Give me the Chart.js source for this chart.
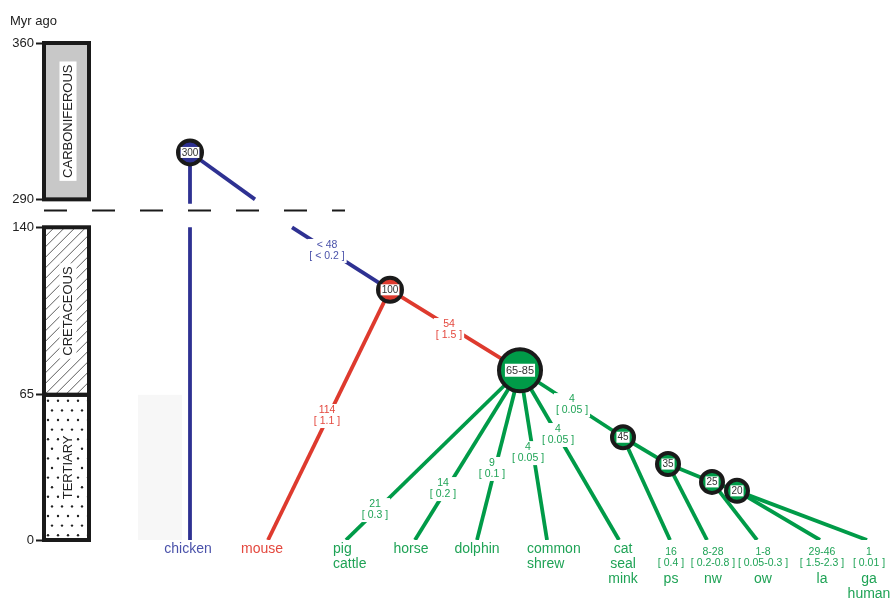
<!DOCTYPE html>
<html lang="en">
<head>
<meta charset="UTF-8" />
<title>Myr ago</title>
<script src="https://cdn.jsdelivr.net/npm/chart.js"></script>
<style>
  html, body { margin: 0; background: #fff; overflow: hidden; }
  #wrap { position: relative; width: 895px; height: 599px; }
</style>
</head>
<body>
<div id="wrap"><canvas id="tree" width="895" height="599"></canvas></div>
<script>
// time axis, Myr ago (broken between 140 and 290)
const tickMyr = [0, 65, 140, 290, 360];
const breakLow = 140, breakHigh = 290, breakGap = 12.5;

const periodNames = ['TERTIARY', 'CRETACEOUS', 'CARBONIFEROUS'];
const periodFrom = [0, 65, 290];
const periodTo = [65, 140, 360];

// internal nodes (age label, column, drawn height in Myr)
const nodeLabels = ['300', '100', '65-85', '45', '35', '25', '20'];
const nodeX = [190, 390, 520, 623, 668, 712, 737];
const nodeMyr = [311, 112, 76, 46, 34, 26, 22];
const nodeParent = [null, 0, 1, 2, 3, 4, 5];
const nodeClade = ['bird', 'rodent', 'mammal', 'mammal', 'mammal', 'mammal', 'mammal'];

// tips
const tipNames = [['chicken'], ['mouse'], ['pig', 'cattle'], ['horse'], ['dolphin'], ['common', 'shrew'],
  ['cat', 'seal', 'mink'], ['ps'], ['nw'], ['ow'], ['la'], ['ga', 'human']];
const tipX = [190, 268, 346, 415, 477, 547, 619, 670, 707, 757, 820, 867];
const tipParent = [0, 1, 2, 2, 2, 2, 2, 3, 4, 5, 6, 6];
const tipClade = ['bird', 'rodent', 'mammal', 'mammal', 'mammal', 'mammal', 'mammal', 'mammal', 'mammal', 'mammal', 'mammal', 'mammal'];
const tipLabelX = [188, 262, 333, 411, 477, 527, 623, 671, 713, 763, 822, 869];
const tipAlign = ['center', 'center', 'left', 'center', 'center', 'left', 'center', 'center', 'center', 'center', 'center', 'center'];
const tipDiv = ['', '', '', '', '', '', '', '16', '8-28', '1-8', '29-46', '1'];
const tipRange = ['', '', '', '', '', '', '', '[ 0.4 ]', '[ 0.2-0.8 ]', '[ 0.05-0.3 ]', '[ 1.5-2.3 ]', '[ 0.01 ]'];

// branch labels
const divText = ['< 48', '54', '114', '21', '14', '9', '4', '4', '4'];
const divRange = ['[ < 0.2 ]', '[ 1.5 ]', '[ 1.1 ]', '[ 0.3 ]', '[ 0.2 ]', '[ 0.1 ]', '[ 0.05 ]', '[ 0.05 ]', '[ 0.05 ]'];
const divX = [327, 449, 327, 375, 443, 492, 528, 558, 572];
const divMyr = [129.4, 94, 55.5, 13.4, 22.8, 31.8, 38.9, 47, 60.4];
const divClade = ['bird', 'rodent', 'rodent', 'mammal', 'mammal', 'mammal', 'mammal', 'mammal', 'mammal'];

// branches that cross the axis break: x where they leave / re-enter
const cutTip = { 0: [190, 190] };
const cutNode = { 1: [255, 292] };

const lineCol = { bird: '#2e3192', rodent: '#de3a2e', mammal: '#009b48' };
const textCol = { bird: '#4a52aa', rodent: '#e4483e', mammal: '#1fa356' };
const FONT = "'Liberation Sans', Arial, sans-serif";

function toAxis(myr) {
  if (myr <= breakLow) return myr;
  return myr - breakHigh + breakLow + breakGap;
}

const datasets = [];
datasets.push({
  data: nodeX.map((x, i) => ({ x: x, y: toAxis(nodeMyr[i]) })),
  showLine: false,
  pointRadius: nodeLabels.map(l => l === '65-85' ? 21 : (l === '300' || l === '100' ? 12 : 11)),
  pointBackgroundColor: nodeClade.map(c => lineCol[c]),
  pointBorderColor: '#1a1a1a',
  pointBorderWidth: 4,
  order: 0
});

function branch(x1, m1, x2, m2, clade) {
  datasets.push({
    data: [{ x: x1, y: toAxis(m1) }, { x: x2, y: toAxis(m2) }],
    showLine: true, borderColor: lineCol[clade], borderWidth: 3.8,
    pointRadius: 0, order: 2
  });
}

nodeParent.forEach((p, i) => {
  if (p === null) return;
  if (cutNode[i]) {
    branch(nodeX[p], nodeMyr[p], cutNode[i][0], breakHigh, nodeClade[p]);
    branch(cutNode[i][1], breakLow, nodeX[i], nodeMyr[i], nodeClade[p]);
  } else {
    branch(nodeX[p], nodeMyr[p], nodeX[i], nodeMyr[i], nodeClade[p]);
  }
});
tipParent.forEach((p, i) => {
  if (cutTip[i]) {
    branch(nodeX[p], nodeMyr[p], cutTip[i][0], breakHigh - 2, tipClade[i]);
    branch(cutTip[i][1], breakLow, tipX[i], 0, tipClade[i]);
  } else {
    branch(nodeX[p], nodeMyr[p], tipX[i], 0, tipClade[i]);
  }
});

// dashed line marking the break
datasets.push({
  data: [{ x: 44, y: breakLow + breakGap * 0.6 }, { x: 345, y: breakLow + breakGap * 0.6 }],
  showLine: true, borderColor: '#1a1a1a', borderWidth: 2, borderDash: [23, 25],
  pointRadius: 0, order: 3
});

const treeDecor = {
  id: 'treeDecor',
  beforeDatasetsDraw(chart) {
    const ctx = chart.ctx, ys = chart.scales.y, xs = chart.scales.x;
    const left = chart.chartArea.left + 2, right = left + 45;
    ctx.save();
    // faint panel
    ctx.fillStyle = '#f7f7f7';
    ctx.fillRect(xs.getPixelForValue(138), ys.getPixelForValue(65), 44, ys.getPixelForValue(0) - ys.getPixelForValue(65));

    periodNames.forEach((name, i) => {
      const top = ys.getPixelForValue(toAxis(periodTo[i]));
      const bot = ys.getPixelForValue(toAxis(periodFrom[i]));
      ctx.save();
      ctx.beginPath();
      ctx.rect(left, top, right - left, bot - top);
      ctx.clip();
      if (name === 'CARBONIFEROUS') {
        ctx.fillStyle = '#c8c8c8';
        ctx.fillRect(left, top, right - left, bot - top);
      } else if (name === 'CRETACEOUS') {
        ctx.strokeStyle = '#333';
        ctx.lineWidth = 0.8;
        const h = bot - top;
        for (let k = -h; k < right - left + h; k += 10.5) {
          ctx.beginPath();
          ctx.moveTo(left + k, bot);
          ctx.lineTo(left + k + h, top);
          ctx.stroke();
        }
      } else {
        ctx.fillStyle = '#222';
        let row = 0;
        for (let y = top + 6; y < bot; y += 9.6, row++) {
          for (let x = left + 4 + (row % 2) * 4; x < right; x += 10) {
            ctx.beginPath();
            ctx.arc(x, y, 1.2, 0, Math.PI * 2);
            ctx.fill();
          }
        }
      }
      ctx.restore();
      ctx.strokeStyle = '#1a1a1a';
      ctx.lineWidth = 4;
      ctx.strokeRect(left, top, right - left, bot - top);

      // rotated label
      ctx.save();
      ctx.translate((left + right) / 2 + 1, (top + bot) / 2);
      ctx.rotate(-Math.PI / 2);
      ctx.font = '13px ' + FONT;
      const w = ctx.measureText(name).width;
      ctx.fillStyle = '#fff';
      ctx.fillRect(-w / 2 - 3, -8, w + 6, 17);
      ctx.fillStyle = '#222';
      ctx.textAlign = 'center';
      ctx.textBaseline = 'middle';
      ctx.fillText(name, 0, 1);
      ctx.restore();
    });
    ctx.restore();
  },
  afterDatasetsDraw(chart) {
    const ctx = chart.ctx, ys = chart.scales.y, xs = chart.scales.x;
    ctx.save();
    ctx.textAlign = 'center';
    ctx.textBaseline = 'middle';

    // node labels
    nodeLabels.forEach((l, i) => {
      const x = xs.getPixelForValue(nodeX[i]), y = ys.getPixelForValue(toAxis(nodeMyr[i]));
      ctx.font = (l === '65-85' ? '11px ' : '10px ') + FONT;
      const w = ctx.measureText(l).width;
      const h = l === '65-85' ? 13 : 11;
      ctx.fillStyle = '#fff';
      ctx.fillRect(x - w / 2 - 1, y - h / 2, w + 2, h);
      ctx.fillStyle = '#333';
      ctx.fillText(l, x, y + 0.5);
    });

    // branch labels
    ctx.font = '10.5px ' + FONT;
    divText.forEach((t, i) => {
      const x = xs.getPixelForValue(divX[i]), y = ys.getPixelForValue(divMyr[i]);
      const w = Math.max(ctx.measureText(t).width, ctx.measureText(divRange[i]).width);
      ctx.fillStyle = '#fff';
      ctx.fillRect(x - w / 2 - 2, y - 12, w + 4, 24);
      ctx.fillStyle = textCol[divClade[i]];
      ctx.fillText(t, x, y - 5.5);
      ctx.fillText(divRange[i], x, y + 5.5);
    });

    // tip labels
    const y0 = ys.getPixelForValue(0);
    tipNames.forEach((lines, i) => {
      const x = xs.getPixelForValue(tipLabelX[i]);
      ctx.fillStyle = textCol[tipClade[i]];
      ctx.textAlign = tipAlign[i];
      let start = 9;
      if (tipDiv[i]) {
        ctx.font = '10.5px ' + FONT;
        ctx.fillText(tipDiv[i], x, y0 + 12);
        ctx.fillText(tipRange[i], x, y0 + 23);
        start = 39;
      }
      ctx.font = '14px ' + FONT;
      lines.forEach((s, k) => ctx.fillText(s, x, y0 + start + k * 15));
    });

    ctx.textAlign = 'left';
    ctx.fillStyle = '#222';
    ctx.font = '13px ' + FONT;
    ctx.fillText('Myr ago', 10, 21);
    ctx.restore();
  }
};

new Chart(document.getElementById('tree'), {
  type: 'scatter',
  data: { datasets: datasets },
  plugins: [treeDecor],
  options: {
    responsive: false,
    animation: false,
    layout: { padding: { left: 0, right: 10, top: 43, bottom: 59 } },
    plugins: { legend: { display: false }, tooltip: { enabled: false } },
    scales: {
      x: { type: 'linear', min: 42, max: 870, display: false },
      y: {
        type: 'linear',
        min: 0,
        max: toAxis(360),
        afterBuildTicks: s => { s.ticks = tickMyr.map(v => ({ value: toAxis(v) })); },
        afterFit: s => { s.width = 42; },
        ticks: {
          autoSkip: false,
          padding: 2,
          color: '#222',
          font: { family: FONT, size: 13 },
          callback: (v, i) => tickMyr[i]
        },
        grid: { drawOnChartArea: false, drawTicks: true, tickLength: 6, tickColor: '#1a1a1a', tickWidth: 2 },
        border: { display: false }
      }
    }
  }
});
</script>
</body>
</html>
